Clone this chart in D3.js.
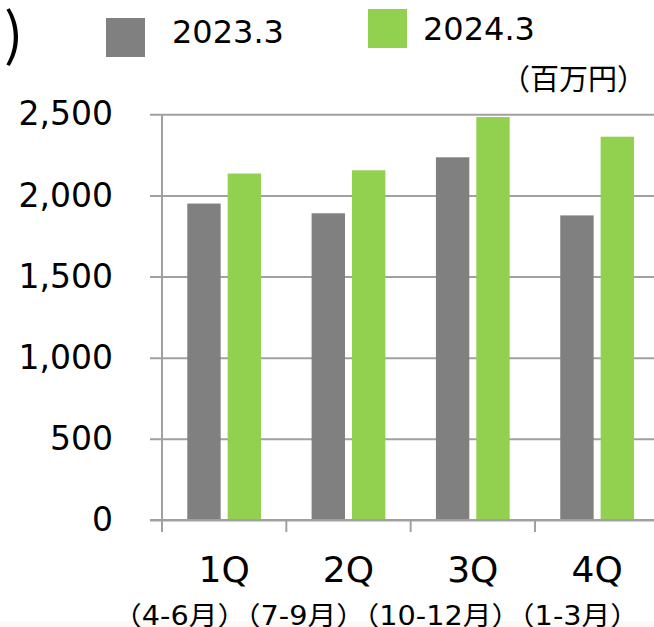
<!DOCTYPE html>
<html>
<head>
<meta charset="utf-8">
<script src="https://cdn.jsdelivr.net/npm/d3@7"></script>
<style>
  body { margin: 0; background: #fff; }
  svg { display: block; }
</style>
</head>
<body>
<div class="board"></div>
<script>
var quarters = ['1Q', '2Q', '3Q', '4Q'];
var series = ['2023.3', '2024.3'];
var values2023 = [1950, 1890, 2235, 1877];
var values2024 = [2135, 2155, 2483, 2362];
var yTicks = [0, 500, 1000, 1500, 2000, 2500];
var monthLabel = '（4-6月）（7-9月）（10-12月）（1-3月）';
var unitLabel = '（百万円）';
var colors = ['#808080', '#92d050'];

var opts = { width: 654, height: 627, left: 162, right: 659.3, top: 114.3, bottom: 520 };

var rows = quarters.map(function(q, i) {
  return { q: q, vals: [values2023[i], values2024[i]] };
});

var svg = d3.select('.board').append('svg')
            .attr('width', opts.width)
            .attr('height', opts.height)
            .style('font-family', '"DejaVu Sans", Verdana, sans-serif');

// faint tint at the bottom edge of the photo
svg.append('rect')
   .attr('x', 0).attr('y', 621).attr('width', opts.width).attr('height', 6)
   .attr('fill', '#fcf9f4');

var x = d3.scaleBand().domain(quarters).range([opts.left, opts.right]);
var x1 = d3.scaleBand().domain(series).range([0, x.bandwidth()])
           .paddingInner(0.173).paddingOuter(0.626);
var y = d3.scaleLinear().domain([0, 2500]).range([opts.bottom, opts.top]);

// gridlines + y labels
var yAxis = svg.append('g')
   .attr('transform', 'translate(150,0)')
   .call(d3.axisLeft(y).tickValues(yTicks).tickFormat(d3.format(','))
           .tickSize(-(opts.width - 150 + 10)).tickPadding(37));
yAxis.select('.domain').remove();
yAxis.selectAll('line').attr('stroke', '#a0a0a0').attr('stroke-width', 2);
yAxis.selectAll('text').attr('font-size', 33).attr('fill', '#000')
     .attr('font-family', '"DejaVu Sans", Verdana, sans-serif');

// y axis line
svg.append('line')
   .attr('x1', opts.left).attr('x2', opts.left)
   .attr('y1', y(2500)).attr('y2', y(0))
   .attr('stroke', '#a0a0a0').attr('stroke-width', 2);

// bars
var groups = svg.selectAll('g.quarter')
   .data(rows)
   .enter().append('g')
   .attr('class', 'quarter')
   .attr('transform', function(d) { return 'translate(' + x(d.q) + ',0)'; });

groups.selectAll('rect')
   .data(function(d) { return d.vals.map(function(v, i) { return { s: series[i], v: v, i: i }; }); })
   .enter().append('rect')
   .attr('x', function(d) { return x1(d.s); })
   .attr('y', function(d) { return y(d.v); })
   .attr('width', x1.bandwidth())
   .attr('height', function(d) { return y(0) - y(d.v); })
   .attr('fill', function(d) { return colors[d.i]; });

// x axis baseline redraw on top, with boundary ticks
svg.append('line')
   .attr('x1', 150).attr('x2', opts.width)
   .attr('y1', y(0)).attr('y2', y(0))
   .attr('stroke', '#a0a0a0').attr('stroke-width', 2);

var bounds = quarters.map(function(q) { return x(q); });
svg.selectAll('line.xtick')
   .data(bounds)
   .enter().append('line')
   .attr('class', 'xtick')
   .attr('x1', function(d) { return d; }).attr('x2', function(d) { return d; })
   .attr('y1', y(0)).attr('y2', y(0) + 12)
   .attr('stroke', '#a0a0a0').attr('stroke-width', 2);

var xAxis = svg.append('g')
   .attr('transform', 'translate(0,' + y(0) + ')')
   .call(d3.axisBottom(x).tickSize(0).tickPadding(36));
xAxis.select('.domain').remove();
xAxis.selectAll('text').attr('font-size', 36).attr('fill', '#000')
     .attr('font-family', '"DejaVu Sans", Verdana, sans-serif')
     .attr('dy', '0.72em');

// month ranges, one line under the quarters (cut by the bottom edge as in the photo)
svg.append('text')
   .attr('x', 376).attr('y', 625)
   .attr('text-anchor', 'middle')
   .attr('font-family', '"DejaVu Sans", "Noto Sans CJK JP", sans-serif')
   .attr('font-size', 26)
   .attr('textLength', 526)
   .attr('lengthAdjust', 'spacingAndGlyphs')
   .text(monthLabel);

// legend
var legendPos = [{ x: 106, y: 18, tx: 172, ty: 43 }, { x: 368, y: 9, tx: 423, ty: 40 }];
series.forEach(function(s, i) {
  var p = legendPos[i];
  svg.append('rect').attr('x', p.x).attr('y', p.y).attr('width', 39).attr('height', 39)
     .attr('fill', colors[i]);
  svg.append('text').attr('x', p.tx).attr('y', p.ty)
     .attr('font-size', 32).text(s);
});

// unit
svg.append('text')
   .attr('x', 646).attr('y', 90)
   .attr('text-anchor', 'end')
   .attr('font-family', '"Noto Sans CJK JP", sans-serif')
   .attr('font-size', 29)
   .text(unitLabel);

// cropped title remnant
svg.append('text')
   .attr('x', 4).attr('y', 55)
   .attr('font-family', '"Noto Sans CJK JP", sans-serif')
   .attr('font-size', 57)
   .text(')');
</script>
</body>
</html>
